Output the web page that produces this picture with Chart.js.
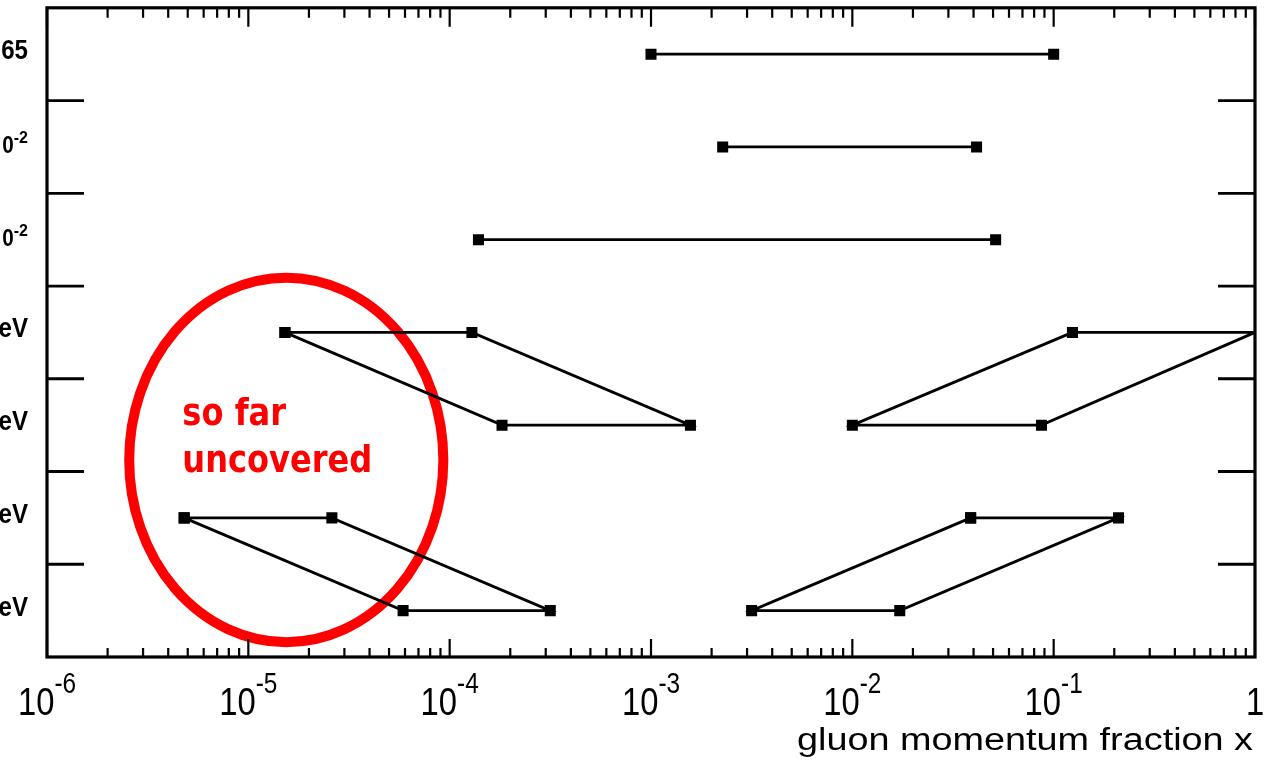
<!DOCTYPE html>
<html><head><meta charset="utf-8">
<script src="https://cdn.jsdelivr.net/npm/chart.js@4.4.1/dist/chart.umd.min.js"></script>
<style>html,body{margin:0;padding:0;background:#fff}#wrap{width:1274px;height:760px}</style>
</head><body><div id="wrap"><canvas id="c" width="1274" height="760"></canvas></div>
<script>
// ---- data ----
const rowPositions = [1, 2, 3, 4, 5, 6, 7];
const rowLabelBase = ['65', '0', '0', 'eV', 'eV', 'eV', 'eV'];
const rowLabelSup  = ['', '-2', '-2', '', '', '', ''];
const xTickValues = [1e-6, 1e-5, 1e-4, 1e-3, 1e-2, 1e-1, 1];
const xTickBase = ['10', '10', '10', '10', '10', '10', '1'];
const xTickSup  = ['-6', '-5', '-4', '-3', '-2', '-1', ''];
const axisTitle = 'gluon momentum fraction x';

const row1X = [1.0e-3, 0.100];
const row2X = [2.27e-3, 0.0414];
const row3X = [1.39e-4, 0.0515];
const row4LeftX  = [1.52e-5, 1.29e-4];
const row5LeftX  = [1.82e-4, 1.57e-3];
const row4RightX = [0.124, 1.0];
const row5RightX = [0.0100, 0.087];
const row6LeftX  = [4.8e-6, 2.6e-5];
const row7LeftX  = [5.87e-5, 3.16e-4];
const row6RightX = [0.0387, 0.21];
const row7RightX = [3.16e-3, 0.0172];

const noteLines = ['so far', 'uncovered'];
const noteX = [4.7e-6, 4.7e-6];
const noteY = [5.0, 5.5];
const ellipseX = [2.56e-6, 9.3e-5];
const ellipseY = [3.41, 7.34];

// ---- build datasets ----
function seg(row, xs) {
  return [{x: xs[0], y: row}, {x: xs[1], y: row}];
}
function quad(rTop, xTop, rBot, xBot) {
  return [{x: xTop[0], y: rTop}, {x: xTop[1], y: rTop}, {x: xBot[1], y: rBot}, {x: xBot[0], y: rBot}, {x: xTop[0], y: rTop}];
}
function ds(points, radii) {
  return {
    data: points, showLine: true, borderColor: '#000', borderWidth: 2.8, tension: 0, fill: false,
    pointStyle: 'rect', pointRadius: radii || 7.8, pointBackgroundColor: '#000', pointBorderWidth: 0,
    pointHoverRadius: 0
  };
}
const datasets = [
  ds(seg(rowPositions[0], row1X)),
  ds(seg(rowPositions[1], row2X)),
  ds(seg(rowPositions[2], row3X)),
  ds(quad(rowPositions[3], row4LeftX, rowPositions[4], row5LeftX)),
  ds(quad(rowPositions[3], row4RightX, rowPositions[4], row5RightX), [7.8, 0, 7.8, 7.8, 7.8]),
  ds(quad(rowPositions[5], row6LeftX, rowPositions[6], row7LeftX)),
  ds(quad(rowPositions[5], row6RightX, rowPositions[6], row7RightX))
];

function drawScaled(ctx, text, x, y, font, sx, align) {
  ctx.save();
  ctx.font = font;
  ctx.textAlign = 'left';
  ctx.textBaseline = 'alphabetic';
  const w = ctx.measureText(text).width * sx;
  let x0 = x;
  if (align === 'center') x0 = x - w / 2;
  if (align === 'right') x0 = x - w;
  ctx.translate(x0, y);
  ctx.scale(sx, 1);
  ctx.fillText(text, 0, 0);
  ctx.restore();
  return w;
}
function measure(ctx, text, font) { ctx.save(); ctx.font = font; const w = ctx.measureText(text).width; ctx.restore(); return w; }

const ellipsePlugin = {
  id: 'ellipse',
  beforeDatasetsDraw(chart) {
    const ctx = chart.ctx, xs = chart.scales.x, ys = chart.scales.y;
    const x0 = xs.getPixelForValue(ellipseX[0]), x1 = xs.getPixelForValue(ellipseX[1]);
    const y0 = ys.getPixelForValue(ellipseY[0]), y1 = ys.getPixelForValue(ellipseY[1]);
    ctx.save();
    ctx.strokeStyle = '#ff0000';
    ctx.lineWidth = 10;
    ctx.beginPath();
    ctx.ellipse((x0 + x1) / 2, (y0 + y1) / 2, Math.abs(x1 - x0) / 2, Math.abs(y1 - y0) / 2, 0, 0, Math.PI * 2);
    ctx.stroke();
    ctx.restore();
  }
};

const framePlugin = {
  id: 'frame',
  afterDatasetsDraw(chart) {
    const ctx = chart.ctx, xs = chart.scales.x, ys = chart.scales.y;
    const a = chart.chartArea;
    ctx.save();
    ctx.strokeStyle = '#000';
    ctx.fillStyle = '#000';
    // x ticks (major + minor), bottom and top
    ctx.lineWidth = 2.2;
    ctx.beginPath();
    for (let d = -6; d <= 0; d++) {
      const px = xs.getPixelForValue(Math.pow(10, d));
      ctx.moveTo(px, a.bottom); ctx.lineTo(px, a.bottom - 18);
      ctx.moveTo(px, a.top); ctx.lineTo(px, a.top + 19);
      if (d < 0) {
        for (let k = 2; k <= 9; k++) {
          const pm = xs.getPixelForValue(k * Math.pow(10, d));
          ctx.moveTo(pm, a.bottom); ctx.lineTo(pm, a.bottom - 9);
          ctx.moveTo(pm, a.top); ctx.lineTo(pm, a.top + 10);
        }
      }
    }
    ctx.stroke();
    // y ticks at row boundaries
    ctx.lineWidth = 2.8;
    ctx.beginPath();
    for (let i = 0; i < rowPositions.length - 1; i++) {
      const py = ys.getPixelForValue((rowPositions[i] + rowPositions[i + 1]) / 2);
      ctx.moveTo(a.left, py); ctx.lineTo(a.left + 37, py);
      ctx.moveTo(a.right, py); ctx.lineTo(a.right - 37, py);
    }
    ctx.stroke();
    // frame
    ctx.lineWidth = 3.2;
    ctx.strokeRect(a.left, a.top, a.right - a.left, a.bottom - a.top);

    // x tick labels
    const baseFont = '39px "Liberation Sans", Arial, sans-serif';
    const supFont = '29px "Liberation Sans", Arial, sans-serif';
    const sx = 0.84;
    xTickValues.forEach((v, i) => {
      const px = xs.getPixelForValue(v);
      const wb = measure(ctx, xTickBase[i], baseFont) * sx;
      const wsup = xTickSup[i] ? measure(ctx, xTickSup[i], supFont) * sx : 0;
      const start = px - (wb + wsup) / 2;
      drawScaled(ctx, xTickBase[i], start, a.bottom + 58, baseFont, sx, 'left');
      if (xTickSup[i]) drawScaled(ctx, xTickSup[i], start + wb, a.bottom + 36, supFont, sx, 'left');
    });
    // axis title (stretched to match)
    const tFont = '31px "Liberation Sans", Arial, sans-serif';
    const tw = measure(ctx, axisTitle, tFont);
    drawScaled(ctx, axisTitle, a.right - 2, a.bottom + 93, tFont, 456 / tw, 'right');

    // row labels (clipped at left edge)
    rowPositions.forEach((r, i) => {
      const py = ys.getPixelForValue(r);
      const rightX = 28;
      if (rowLabelSup[i]) {
        const bf = 'bold 23px "Liberation Sans", Arial, sans-serif';
        const sf = 'bold 16px "Liberation Sans", Arial, sans-serif';
        const wsup = measure(ctx, rowLabelSup[i], sf) * 1.0;
        drawScaled(ctx, rowLabelSup[i], rightX, py - 4, sf, 1.0, 'right');
        drawScaled(ctx, rowLabelBase[i], rightX - wsup, py + 6, bf, 0.9, 'right');
      } else {
        const bf = 'bold 28px "Liberation Sans", Arial, sans-serif';
        drawScaled(ctx, rowLabelBase[i], rightX, py + 5, bf, 0.86, 'right');
      }
    });

    // note text
    ctx.fillStyle = '#ff0000';
    const nFont = 'bold 38px "DejaVu Sans", sans-serif';
    const nScale = 190 / measure(ctx, noteLines[1], nFont);
    noteLines.forEach((t, i) => {
      drawScaled(ctx, t, xs.getPixelForValue(noteX[i]), ys.getPixelForValue(noteY[i]), nFont, nScale, 'left');
    });
    ctx.restore();
  }
};

new Chart(document.getElementById('c'), {
  type: 'line',
  data: { datasets },
  options: {
    responsive: false,
    animation: false,
    events: [],
    layout: { padding: { left: 47, right: 19, top: 7, bottom: 103 } },
    plugins: { legend: { display: false }, tooltip: { enabled: false } },
    scales: {
      x: { type: 'logarithmic', min: 1e-6, max: 1, display: false },
      y: { type: 'linear', min: 0.5, max: 7.5, reverse: true, display: false }
    }
  },
  plugins: [ellipsePlugin, framePlugin]
});
</script>
</body></html>
